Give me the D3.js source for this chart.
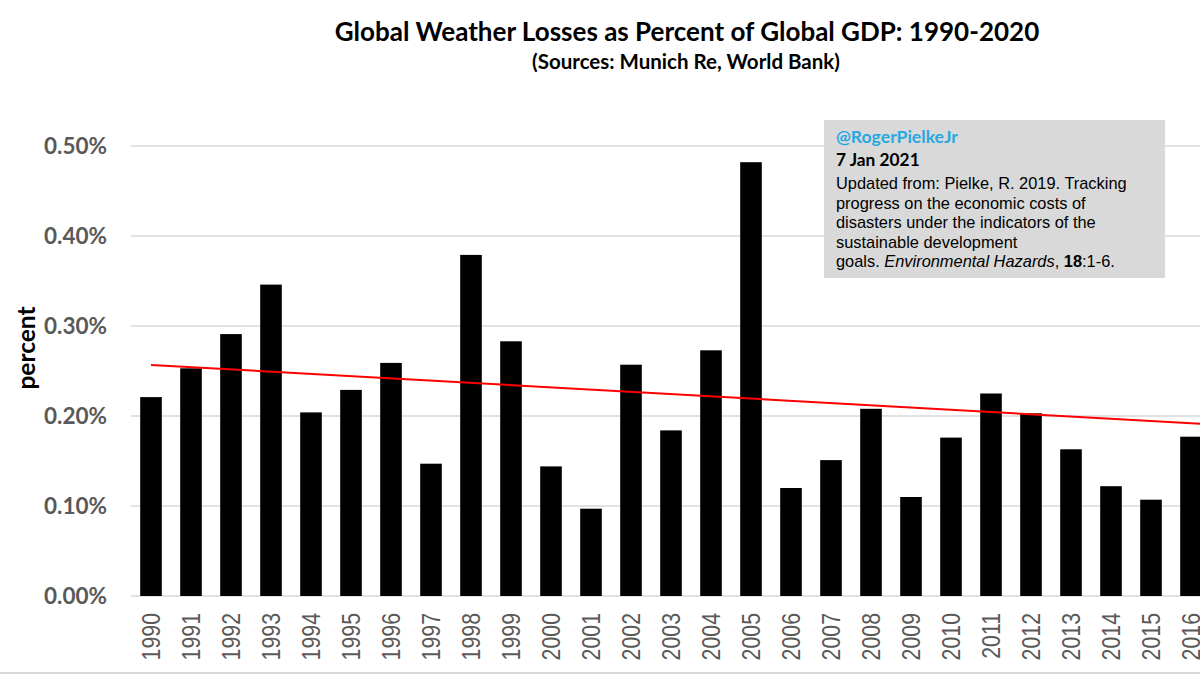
<!DOCTYPE html>
<html><head><meta charset="utf-8">
<script src="https://cdn.jsdelivr.net/npm/d3@7"></script>
<style>body{margin:0;background:#fff;overflow:hidden}</style>
</head><body>
<svg id="c" width="1200" height="675"></svg>
<script>
const years = d3.range(1990, 2021).map(String);
const visibleYears = ["1990","1991","1992","1993","1994","1995","1996","1997","1998","1999","2000","2001","2002","2003","2004","2005","2006","2007","2008","2009","2010","2011","2012","2013","2014","2015","2016"];
const lossPct = [0.221,0.253,0.291,0.346,0.204,0.229,0.259,0.147,0.379,0.283,0.144,0.097,0.257,0.184,0.273,0.482,0.120,0.151,0.208,0.110,0.176,0.225,0.203,0.163,0.122,0.107,0.177];
const trendYears = ["1990","2020"];
const trendPct = [0.2567,0.182];
const yTicks = [0,0.1,0.2,0.3,0.4,0.5];
const title = "Global Weather Losses as Percent of Global GDP: 1990-2020";
const subtitle = "(Sources: Munich Re, World Bank)";
const noteHandle = "@RogerPielkeJr";
const noteDate = "7 Jan 2021";

const svg = d3.select("#c");
const left = 131, bandW = 40;
const x = d3.scaleBand().domain(years).range([left, left + bandW*years.length]).paddingInner(0.46).paddingOuter(0.23);
const y = d3.scaleLinear().domain([0,0.5]).range([596,146]);
const calibri = "Lato, 'Open Sans', sans-serif";
const arial = "'Liberation Sans', Arial, sans-serif";

svg.append("text").attr("x",687).attr("y",41).attr("text-anchor","middle")
  .attr("font-family",calibri).attr("font-weight","bold").attr("font-size",26).attr("fill","#000").text(title);
svg.append("text").attr("x",686).attr("y",69).attr("text-anchor","middle")
  .attr("font-family",calibri).attr("font-weight","bold").attr("font-size",20.5).attr("fill","#000").text(subtitle);

// gridlines
svg.append("g").selectAll("line").data(yTicks).join("line")
  .attr("x1",left).attr("x2",1200).attr("y1",d=>y(d)).attr("y2",d=>y(d))
  .attr("stroke","#d9d9d9").attr("stroke-width",1.5);

// y axis labels
const yAxis = d3.axisLeft(y).tickValues(yTicks).tickFormat(d=>d.toFixed(2)+"%").tickSize(0).tickPadding(0);
const ya = svg.append("g").attr("transform","translate(107,0)").call(yAxis);
ya.select(".domain").remove();
ya.selectAll("text").attr("font-family",calibri).attr("font-weight","bold").attr("font-size",22.5).attr("fill","#595959");

svg.append("text").attr("transform","translate(35,348) rotate(-90)").attr("text-anchor","middle")
  .attr("font-family",calibri).attr("font-weight","bold").attr("font-size",24.5).attr("fill","#000").text("percent");

// bars
svg.append("g").selectAll("rect").data(visibleYears).join("rect")
  .attr("x",d=>x(d)).attr("width",x.bandwidth())
  .attr("y",(d,i)=>y(lossPct[i])).attr("height",(d,i)=>y(0)-y(lossPct[i]))
  .attr("fill","#000");

// trend
svg.append("line")
  .attr("x1",x(trendYears[0])+x.bandwidth()/2).attr("y1",y(trendPct[0]))
  .attr("x2",x(trendYears[1])+x.bandwidth()/2).attr("y2",y(trendPct[1]))
  .attr("stroke","#ff0000").attr("stroke-width",2);

// x axis labels (narrow, like Arial Narrow)
const xAxis = d3.axisBottom(x).tickSize(0).tickPadding(0);
const xa = svg.append("g").attr("transform","translate(0,596)").call(xAxis);
xa.select(".domain").remove();
xa.selectAll("text").attr("transform","rotate(-90) scale(0.82,1)").attr("text-anchor","end")
  .attr("x",-17/0.82).attr("y",0).attr("dy","0.36em")
  .attr("font-family",arial).attr("font-size",26).attr("fill","#595959");

svg.append("line").attr("x1",0).attr("x2",1200).attr("y1",673).attr("y2",673).attr("stroke","#d9d9d9").attr("stroke-width",2);

// note box
const note = svg.append("g");
note.append("rect").attr("x",824).attr("y",120).attr("width",341).attr("height",158).attr("fill","#d9d9d9");
note.append("text").attr("x",836).attr("y",143).attr("font-family",calibri).attr("font-weight","bold").attr("font-size",17.6).attr("fill","#29a8e0").text(noteHandle);
note.append("text").attr("x",836).attr("y",166).attr("font-family",calibri).attr("font-weight","bold").attr("font-size",17.3).attr("fill","#000").text(noteDate);
const lines = [
  [["Updated from: Pielke, R. 2019. Tracking","normal","normal"]],
  [["progress on the economic costs of","normal","normal"]],
  [["disasters under the indicators of the","normal","normal"]],
  [["sustainable development","normal","normal"]],
  [["goals. ","normal","normal"],["Environmental Hazards","italic","normal"],[", ","normal","normal"],["18","normal","bold"],[":1-6.","normal","normal"]]
];
lines.forEach((ln,i)=>{
  const t = note.append("text").attr("x",836).attr("y",189+i*19.6).attr("font-family",arial).attr("font-size",16.4).attr("fill","#000");
  ln.forEach(s=>t.append("tspan").attr("font-style",s[1]).attr("font-weight",s[2]).text(s[0]));
});
</script>
</body></html>
